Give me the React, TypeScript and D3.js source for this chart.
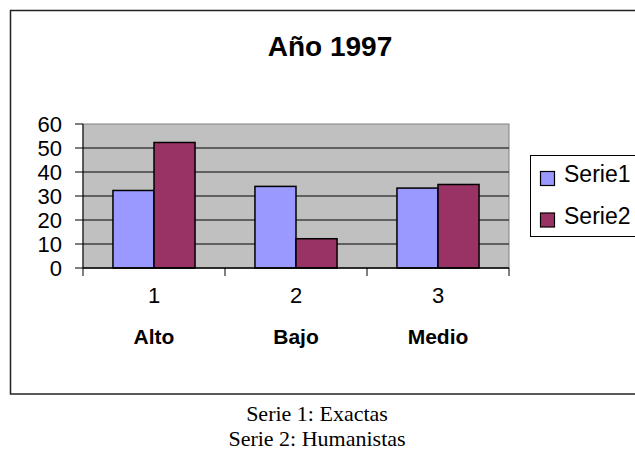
import React from "react";
import * as d3 from "d3";

const categories = ["1", "2", "3"];
const categoryNames = ["Alto", "Bajo", "Medio"];
const seriesNames = ["Serie1", "Serie2"];
const serie1 = [32.3, 34, 33.3];
const serie2 = [52.3, 12.2, 34.8];
const yTicks = [0, 10, 20, 30, 40, 50, 60];
const title = "Año 1997";
const captions = ["Serie 1: Exactas", "Serie 2: Humanistas"];
const colors = ["#9999FF", "#993366"];

const W = 635;
const H = 466;
const plot = { left: 83, right: 509, top: 124, bottom: 268 };

export default function App() {
  const x = d3.scaleBand<string>().domain(categories).range([plot.left, plot.right]).padding(0);
  const xs = d3
    .scaleBand<string>()
    .domain(seriesNames)
    .range([0, x.bandwidth()])
    .paddingInner(0)
    .paddingOuter(0.73);
  const y = d3.scaleLinear().domain([0, 60]).range([plot.bottom, plot.top]);
  const seriesData = [serie1, serie2];
  const sans = "Liberation Sans, Arial, sans-serif";

  return (
    <svg
      width={W}
      height={H}
      style={{ position: "absolute", left: 0, top: 0, background: "#fff" }}
    >
      <rect x={0} y={0} width={W} height={H} fill="#fff" />
      {/* outer frame */}
      <rect x={10.5} y={10.5} width={W + 10} height={383.5} fill="none" stroke="#222" strokeWidth={1.5} />
      <text x={330} y={56} textAnchor="middle" fontFamily={sans} fontWeight="bold" fontSize={28}>
        {title}
      </text>
      {/* plot area */}
      <rect
        x={plot.left}
        y={plot.top}
        width={plot.right - plot.left}
        height={plot.bottom - plot.top}
        fill="#C0C0C0"
        stroke="#808080"
        strokeWidth={1}
      />
      {yTicks.slice(1, -1).map((t) => (
        <line key={"g" + t} x1={plot.left} x2={plot.right} y1={y(t)} y2={y(t)} stroke="#000" strokeWidth={1} />
      ))}
      {/* bars */}
      {categories.map((c, i) =>
        seriesNames.map((s, j) => (
          <rect
            key={c + s}
            x={(x(c) as number) + (xs(s) as number)}
            y={y(seriesData[j][i])}
            width={xs.bandwidth()}
            height={y(0) - y(seriesData[j][i])}
            fill={colors[j]}
            stroke="#000"
            strokeWidth={1.5}
          />
        ))
      )}
      {/* y axis */}
      <line x1={plot.left} x2={plot.left} y1={plot.top} y2={plot.bottom + 8} stroke="#000" strokeWidth={1} />
      {yTicks.map((t) => (
        <g key={"y" + t}>
          <line x1={plot.left - 8} x2={plot.left} y1={y(t)} y2={y(t)} stroke="#000" strokeWidth={1} />
          <text x={62} y={y(t) + 8} textAnchor="end" fontFamily={sans} fontSize={22}>
            {t}
          </text>
        </g>
      ))}
      {/* x axis */}
      <line x1={plot.left} x2={plot.right} y1={plot.bottom} y2={plot.bottom} stroke="#000" strokeWidth={1.5} />
      {categories.map((c) => (
        <line
          key={"xt" + c}
          x1={(x(c) as number) + x.bandwidth()}
          x2={(x(c) as number) + x.bandwidth()}
          y1={plot.bottom}
          y2={plot.bottom + 8}
          stroke="#000"
          strokeWidth={1}
        />
      ))}
      {categories.map((c, i) => (
        <g key={"xl" + c}>
          <text
            x={(x(c) as number) + x.bandwidth() / 2}
            y={303}
            textAnchor="middle"
            fontFamily={sans}
            fontSize={22}
          >
            {c}
          </text>
          <text
            x={(x(c) as number) + x.bandwidth() / 2}
            y={344}
            textAnchor="middle"
            fontFamily={sans}
            fontWeight="bold"
            fontSize={21}
          >
            {categoryNames[i]}
          </text>
        </g>
      ))}
      {/* legend */}
      <rect x={530.5} y={155.5} width={120} height={81} fill="#fff" stroke="#000" strokeWidth={1} />
      {seriesNames.map((s, j) => (
        <g key={"lg" + s}>
          <rect x={540.5} y={171.5 + j * 41.5} width={14} height={14} fill={colors[j]} stroke="#000" strokeWidth={1.2} />
          <text x={564} y={182 + j * 41.5} fontFamily={sans} fontSize={23}>
            {s}
          </text>
        </g>
      ))}
      {/* caption */}
      {captions.map((c, i) => (
        <text
          key={"c" + i}
          x={317}
          y={421 + i * 25}
          textAnchor="middle"
          fontFamily="Liberation Serif, Times New Roman, serif"
          fontSize={22}
        >
          {c}
        </text>
      ))}
    </svg>
  );
}
